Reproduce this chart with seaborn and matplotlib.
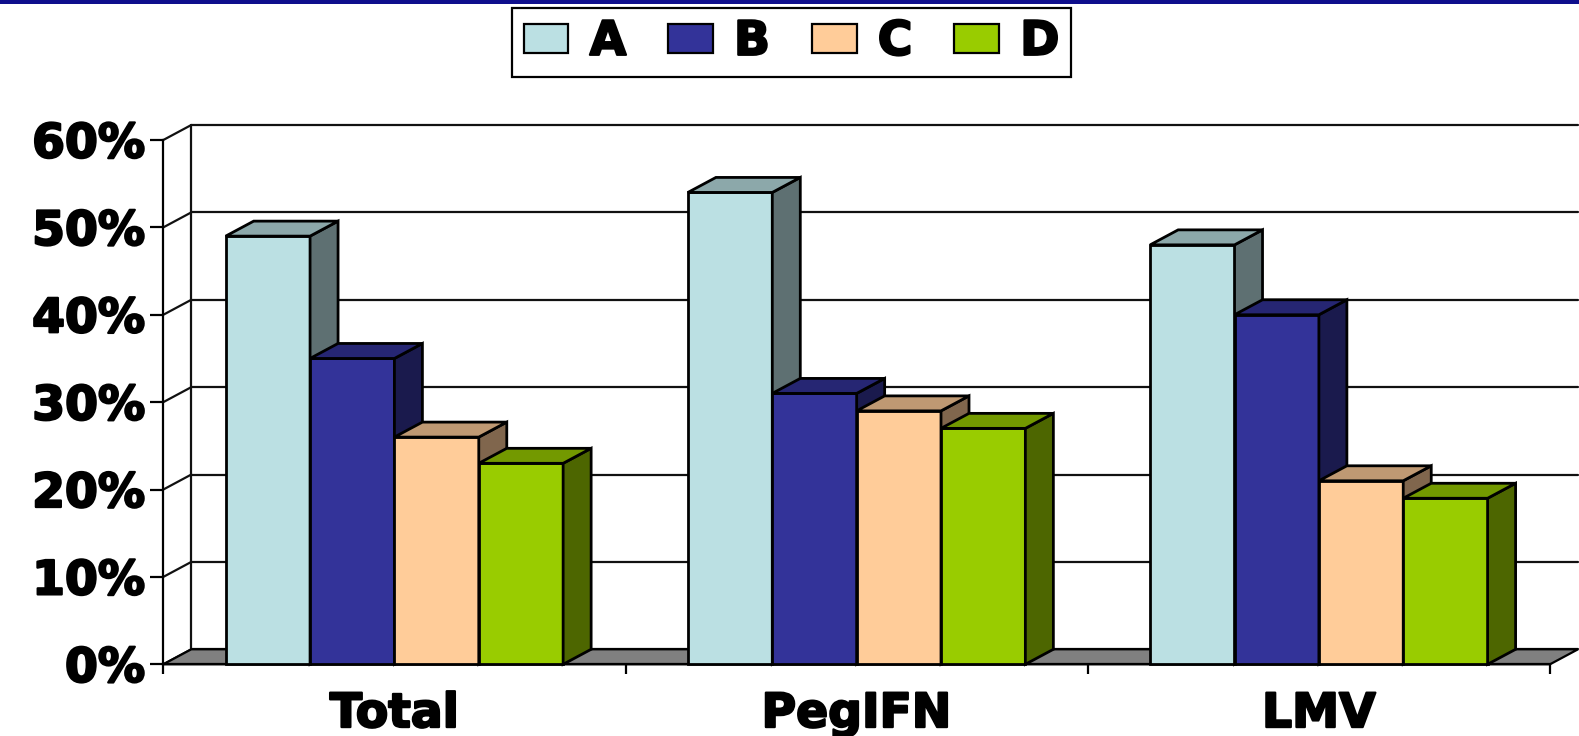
import numpy as np
import pandas as pd
import matplotlib
matplotlib.use("Agg")
import matplotlib.pyplot as plt
import matplotlib.patheffects as pe
import seaborn as sns
from matplotlib.patches import Polygon, Rectangle
from matplotlib.lines import Line2D
from matplotlib.colors import to_rgb

# ---- data ---------------------------------------------------------------
categories = ["Total", "PegIFN", "LMV"]
series = ["A", "B", "C", "D"]
values_a = [49, 54, 48]
values_b = [35, 31, 40]
values_c = [26, 29, 21]
values_d = [23, 27, 19]
y_ticks = [0, 10, 20, 30, 40, 50, 60]
y_tick_labels = ["0%", "10%", "20%", "30%", "40%", "50%", "60%"]

series_colors = ["#BBE0E3", "#333399", "#FFCC99", "#99CC00"]

df = pd.DataFrame({
    "category": categories * 4,
    "series": [s for s in series for _ in categories],
    "value": values_a + values_b + values_c + values_d,
})

# ---- figure / axes ------------------------------------------------------
sns.set_theme(style="white")
plt.rcParams["font.family"] = ["DejaVu Sans"]
plt.rcParams["font.weight"] = "bold"
plt.rcParams["text.color"] = "black"

W, H = 1579, 736
fig = plt.figure(figsize=(W / 100, H / 100), dpi=100)
fig.patch.set_facecolor("white")

# front plane of the pseudo-3D box, in pixels
front_left, front_right = 163.3, 1550.0
front_top, front_bottom = 140.0, 664.3
ax = fig.add_axes([front_left / W, 1 - front_bottom / H,
                   (front_right - front_left) / W,
                   (front_bottom - front_top) / H])
ax.set_facecolor("none")

EDGE = 2.0
sns.barplot(data=df, x="category", y="value", hue="series",
            order=categories, hue_order=series, palette=series_colors,
            width=0.73, saturation=1, edgecolor="black", linewidth=EDGE,
            errorbar=None, ax=ax)

ax.set_xlim(-0.5, 2.5)
ax.set_ylim(0, 60)

# depth offset of the back plane (28 px right, 15 px up) in data units
px_x = (front_right - front_left) / 3.0
px_y = (front_bottom - front_top) / 60.0
dx = 28.0 / px_x
dy = 15.0 / px_y

# ---- walls, floor and gridlines ----------------------------------------
grid_kw = dict(color="#111111", lw=1.6, clip_on=False, zorder=1)
for v in y_ticks:
    ax.add_line(Line2D([-0.5 + dx, 2.5 + dx], [v + dy, v + dy], **grid_kw))
    ax.add_line(Line2D([-0.5, -0.5 + dx], [v, v + dy], **grid_kw))
ax.add_line(Line2D([-0.5 + dx, -0.5 + dx], [dy, 60 + dy], **grid_kw))

floor = Polygon([(-0.5, 0), (2.5, 0), (2.5 + dx, dy), (-0.5 + dx, dy)],
                closed=True, facecolor="#808080", edgecolor="black",
                lw=1.6, clip_on=False, zorder=2)
ax.add_patch(floor)

# ---- 3D faces of the bars ----------------------------------------------
def shade(color, k):
    r, g, b = to_rgb(color)
    return (r * k, g * k, b * k)

bars = [p for p in ax.patches if isinstance(p, Rectangle) and p.get_width() > 0]
for p in bars:
    x0, w, h = p.get_x(), p.get_width(), p.get_height()
    fc = p.get_facecolor()
    z = 3 + x0
    p.set_zorder(z)
    p.set_clip_on(False)
    p.set_joinstyle("miter")
    top = Polygon([(x0, h), (x0 + w, h), (x0 + w + dx, h + dy), (x0 + dx, h + dy)],
                  closed=True, facecolor=shade(fc, 0.75), edgecolor="black",
                  lw=EDGE, joinstyle="miter", clip_on=False, zorder=z)
    side = Polygon([(x0 + w, 0), (x0 + w + dx, dy), (x0 + w + dx, h + dy), (x0 + w, h)],
                   closed=True, facecolor=shade(fc, 0.5), edgecolor="black",
                   lw=EDGE, joinstyle="miter", clip_on=False, zorder=z)
    ax.add_patch(side)
    ax.add_patch(top)

# ---- axes, ticks, labels ------------------------------------------------
for s in ["top", "right"]:
    ax.spines[s].set_visible(False)
for s in ["left", "bottom"]:
    ax.spines[s].set_color("black")
    ax.spines[s].set_linewidth(1.6)
    ax.spines[s].set_zorder(2.5)

heavy = [pe.withStroke(linewidth=1.6, foreground="black")]
FS = 34

ax.set_yticks(y_ticks, y_tick_labels)
ax.set_xticks([0, 1, 2], categories)
ax.set_xticks([-0.5, 0.5, 1.5, 2.5], minor=True)
ax.tick_params(axis="y", left=True, direction="out", length=9.4, width=1.6,
               color="black", pad=3.6, labelsize=FS, labelcolor="black")
ax.tick_params(axis="x", which="major", bottom=True, length=0, pad=20,
               labelsize=FS, labelcolor="black")
ax.tick_params(axis="x", which="minor", bottom=True, direction="out",
               length=7.2, width=1.6, color="black")
ax.set_xlabel("")
ax.set_ylabel("")
for lbl in ax.get_xticklabels() + ax.get_yticklabels():
    lbl.set_fontweight("bold")
    lbl.set_path_effects(heavy)

# ---- legend -------------------------------------------------------------
handles, labels = ax.get_legend_handles_labels()
if ax.get_legend() is not None:
    ax.get_legend().remove()
leg = fig.legend(handles, labels, loc="upper center",
                 bbox_to_anchor=(791.5 / W, 1 - 8 / H), ncol=4,
                 frameon=True, fancybox=False, framealpha=1,
                 edgecolor="black", fontsize=FS,
                 handlelength=0.95, handleheight=0.57,
                 handletextpad=0.45, columnspacing=0.88, borderpad=0.25,
                 borderaxespad=0)
leg.get_frame().set_linewidth(1.6)
for h in leg.legend_handles:
    h.set_edgecolor("black")
    h.set_linewidth(1.6)
for t in leg.get_texts():
    t.set_fontweight("bold")
    t.set_color("black")
    t.set_path_effects(heavy)

# dark blue rule along the top edge
fig.add_artist(Rectangle((0, 1 - 3.5 / H), 1, 3.5 / H, transform=fig.transFigure,
                         facecolor="#0E0E8C", edgecolor="none"))

fig.savefig("out.png", dpi=100)
